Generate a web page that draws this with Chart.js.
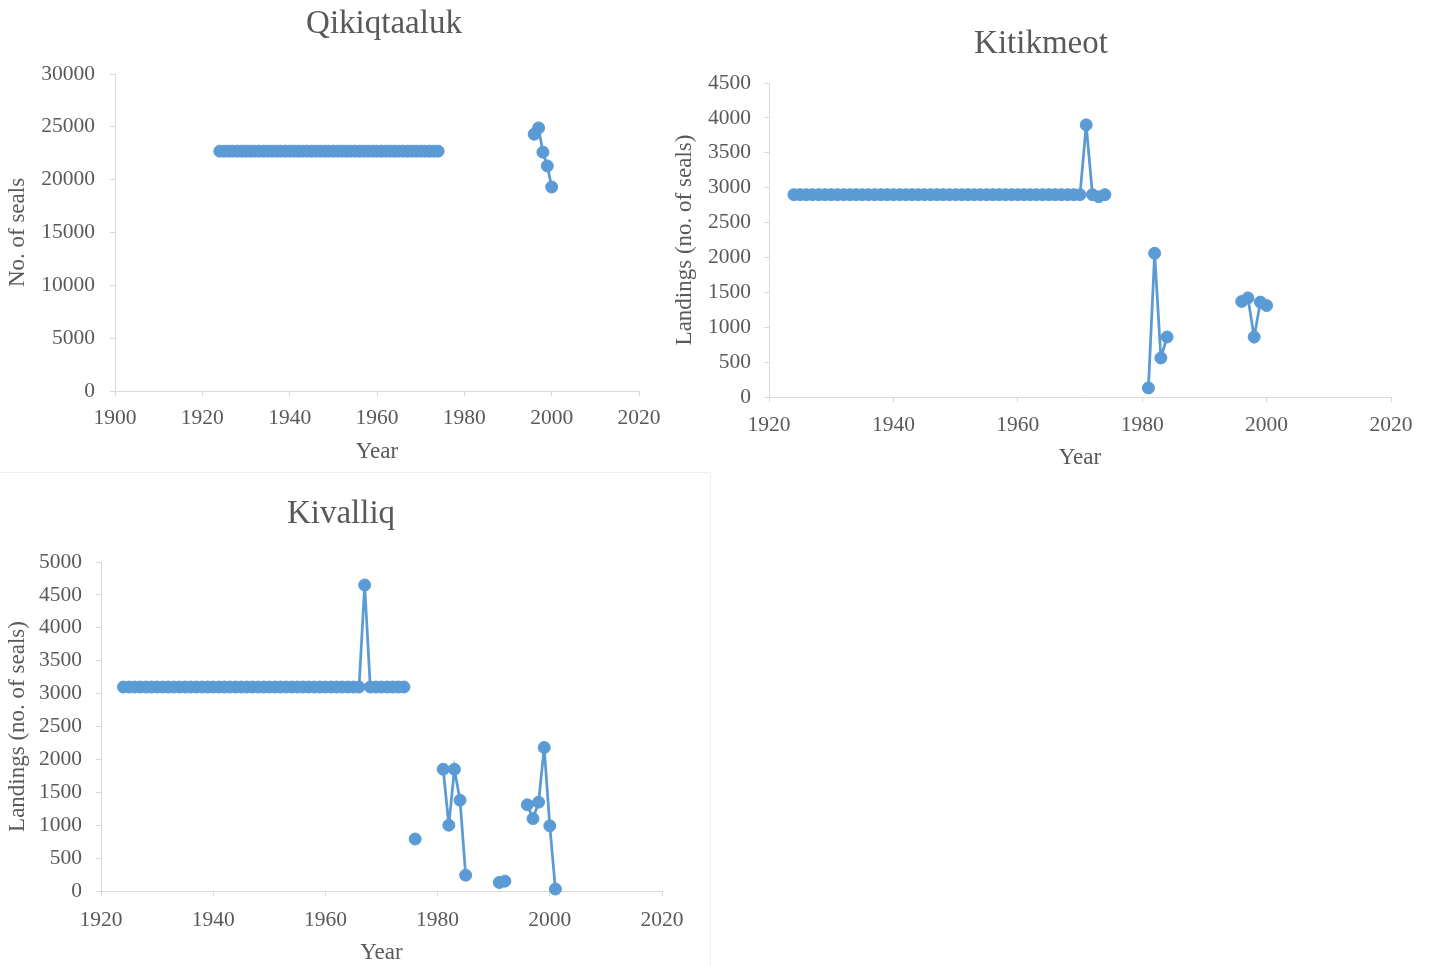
<!DOCTYPE html>
<html>
<head>
<meta charset="utf-8">
<script src="https://cdn.jsdelivr.net/npm/chart.js@4/dist/chart.umd.min.js"></script>
<style>
  html, body { margin: 0; padding: 0; background: #ffffff; }
  body { width: 1429px; height: 966px; position: relative; overflow: hidden; }
  canvas { position: absolute; }
  #frame { position: absolute; left: 0; top: 472px; width: 711px; height: 494px;
           border-top: 1px solid #efefef; border-right: 1px solid #efefef; box-sizing: border-box; }
</style>
</head>
<body>
<div id="frame"></div>
<canvas id="qik" width="768" height="471" style="left:0;top:0"></canvas>
<canvas id="kit" width="750" height="477" style="left:666px;top:0"></canvas>
<canvas id="kiv" width="700" height="500" style="left:0;top:472px"></canvas>
<script>
// Seal landings by region; a null value breaks the line between runs of years.

const qikYears = [
  1924, 1925, 1926, 1927, 1928, 1929, 1930, 1931, 1932, 1933,
  1934, 1935, 1936, 1937, 1938, 1939, 1940, 1941, 1942, 1943,
  1944, 1945, 1946, 1947, 1948, 1949, 1950, 1951, 1952, 1953,
  1954, 1955, 1956, 1957, 1958, 1959, 1960, 1961, 1962, 1963,
  1964, 1965, 1966, 1967, 1968, 1969, 1970, 1971, 1972, 1973,
  1974, 1985,
  1996, 1997, 1998, 1999, 2000
];
const qikSeals = [
  22700, 22700, 22700, 22700, 22700, 22700, 22700, 22700, 22700, 22700,
  22700, 22700, 22700, 22700, 22700, 22700, 22700, 22700, 22700, 22700,
  22700, 22700, 22700, 22700, 22700, 22700, 22700, 22700, 22700, 22700,
  22700, 22700, 22700, 22700, 22700, 22700, 22700, 22700, 22700, 22700,
  22700, 22700, 22700, 22700, 22700, 22700, 22700, 22700, 22700, 22700,
  22700, null,
  24300, 24900, 22600, 21300, 19300
];

const kitYears = [
  1924, 1925, 1926, 1927, 1928, 1929, 1930, 1931, 1932, 1933,
  1934, 1935, 1936, 1937, 1938, 1939, 1940, 1941, 1942, 1943,
  1944, 1945, 1946, 1947, 1948, 1949, 1950, 1951, 1952, 1953,
  1954, 1955, 1956, 1957, 1958, 1959, 1960, 1961, 1962, 1963,
  1964, 1965, 1966, 1967, 1968, 1969, 1970, 1971, 1972, 1973,
  1974, 1978,
  1981, 1982, 1983, 1984, 1990,
  1996, 1997, 1998, 1999, 2000
];
const kitLandings = [
  2900, 2900, 2900, 2900, 2900, 2900, 2900, 2900, 2900, 2900,
  2900, 2900, 2900, 2900, 2900, 2900, 2900, 2900, 2900, 2900,
  2900, 2900, 2900, 2900, 2900, 2900, 2900, 2900, 2900, 2900,
  2900, 2900, 2900, 2900, 2900, 2900, 2900, 2900, 2900, 2900,
  2900, 2900, 2900, 2900, 2900, 2900, 2900, 3900, 2900, 2870,
  2900, null,
  130, 2060, 560, 860, null,
  1370, 1420, 860, 1360, 1310
];

const kivYears = [
  1924, 1925, 1926, 1927, 1928, 1929, 1930, 1931, 1932, 1933,
  1934, 1935, 1936, 1937, 1938, 1939, 1940, 1941, 1942, 1943,
  1944, 1945, 1946, 1947, 1948, 1949, 1950, 1951, 1952, 1953,
  1954, 1955, 1956, 1957, 1958, 1959, 1960, 1961, 1962, 1963,
  1964, 1965, 1966, 1967, 1968, 1969, 1970, 1971, 1972, 1973,
  1974, 1975, 1976, 1977,
  1981, 1982, 1983, 1984, 1985, 1988,
  1991, 1992, 1994,
  1996, 1997, 1998, 1999, 2000, 2001
];
const kivLandings = [
  3100, 3100, 3100, 3100, 3100, 3100, 3100, 3100, 3100, 3100,
  3100, 3100, 3100, 3100, 3100, 3100, 3100, 3100, 3100, 3100,
  3100, 3100, 3100, 3100, 3100, 3100, 3100, 3100, 3100, 3100,
  3100, 3100, 3100, 3100, 3100, 3100, 3100, 3100, 3100, 3100,
  3100, 3100, 3100, 4650, 3100, 3100, 3100, 3100, 3100, 3100,
  3100, null, 790, null,
  1850, 1000, 1850, 1380, 240, null,
  130, 150, null,
  1310, 1100, 1350, 2180, 990, 30
];

const yearTicksFrom1900 = [1900, 1920, 1940, 1960, 1980, 2000, 2020];
const yearTicksFrom1920 = [1920, 1940, 1960, 1980, 2000, 2020];
const qikTicks = [0, 5000, 10000, 15000, 20000, 25000, 30000];
const kitTicks = [0, 500, 1000, 1500, 2000, 2500, 3000, 3500, 4000, 4500];
const kivTicks = [0, 500, 1000, 1500, 2000, 2500, 3000, 3500, 4000, 4500, 5000];

const BLUE = '#5b9bd5';
const TEXT = '#595959';
const AXIS = '#d9d9d9';
const SERIF = '"Liberation Serif", "Times New Roman", serif';

function axisStyle() {
  return {
    grid: { display: true, drawOnChartArea: false, drawTicks: true, tickLength: 5, color: AXIS, lineWidth: 1 },
    border: { display: true, color: AXIS, width: 1 }
  };
}

function panel(id, o) {
  const points = o.years.map((x, i) => ({ x: x, y: o.values[i] }));
  return new Chart(document.getElementById(id), {
    type: 'scatter',
    data: {
      datasets: [{
        data: points,
        showLine: true,
        spanGaps: false,
        tension: 0,
        borderColor: BLUE,
        backgroundColor: BLUE,
        borderWidth: 2.75,
        pointRadius: 6,
        pointHoverRadius: 6,
        pointBorderWidth: 1,
        pointBackgroundColor: BLUE,
        pointBorderColor: BLUE,
        clip: false
      }]
    },
    options: {
      responsive: false,
      animation: false,
      devicePixelRatio: 1,
      events: [],
      layout: { padding: { top: 0, left: 0, right: o.padRight, bottom: 0 } },
      plugins: {
        legend: { display: false },
        tooltip: { enabled: false },
        title: {
          display: true,
          text: o.title,
          color: TEXT,
          font: { family: SERIF, size: 33, weight: 'normal', lineHeight: 1.2 },
          padding: { top: o.titleTop, bottom: o.titleBottom }
        }
      },
      scales: {
        x: Object.assign(axisStyle(), {
          type: 'linear',
          min: o.xTicks[0],
          max: o.xTicks[o.xTicks.length - 1],
          afterFit: s => { s.height = o.xHeight; s.paddingLeft = 0; s.paddingRight = 0; },
          afterBuildTicks: s => { s.ticks = o.xTicks.map(v => ({ value: v })); },
          ticks: {
            autoSkip: false, maxRotation: 0, minRotation: 0,
            color: TEXT, padding: o.xTickPad,
            font: { family: SERIF, size: 21.5, lineHeight: 1.2 },
            callback: v => String(v)
          },
          title: {
            display: true, text: 'Year', color: TEXT,
            font: { family: SERIF, size: 23, lineHeight: 1.2 },
            padding: { top: 0, bottom: o.xTitleBottom }
          }
        }),
        y: Object.assign(axisStyle(), {
          type: 'linear',
          min: o.yTicks[0],
          max: o.yTicks[o.yTicks.length - 1],
          afterFit: s => { s.width = o.yWidth; },
          afterBuildTicks: s => { s.ticks = o.yTicks.map(v => ({ value: v })); },
          ticks: {
            autoSkip: false,
            color: TEXT, padding: o.yTickPad,
            font: { family: SERIF, size: 21.5, lineHeight: 1.2 },
            callback: v => String(v)
          },
          title: {
            display: true, text: o.yTitle, color: TEXT,
            font: { family: SERIF, size: 23, lineHeight: 1.2 },
            padding: { top: o.yTitleTop, bottom: 0 }
          }
        }),
        // empty spacer on the right that fixes where the plot area ends
        spacer: {
          type: 'linear',
          position: 'right',
          display: true,
          grid: { display: false },
          border: { display: false },
          ticks: { display: false },
          afterFit: s => { s.width = o.spacer; s.paddingTop = 0; s.paddingBottom = 0; }
        }
      }
    }
  });
}

panel('qik', {
  title: 'Qikiqtaaluk', yTitle: 'No. of seals',
  years: qikYears, values: qikSeals,
  xTicks: yearTicksFrom1900, yTicks: qikTicks,
  padRight: 0, spacer: 129, titleTop: 4.2, titleBottom: 30.2,
  xHeight: 80, xTickPad: 9.6, xTitleBottom: 4.8,
  yWidth: 115, yTickPad: 15, yTitleTop: 4.2
});

panel('kit', {
  title: 'Kitikmeot', yTitle: 'Landings (no. of seals)',
  years: kitYears, values: kitLandings,
  xTicks: yearTicksFrom1920, yTicks: kitTicks,
  padRight: 0, spacer: 25, titleTop: 24.2, titleBottom: 19.2,
  xHeight: 80, xTickPad: 10, xTitleBottom: 5.2,
  yWidth: 103, yTickPad: 13, yTitleTop: 5.2
});

panel('kiv', {
  title: 'Kivalliq', yTitle: 'Landings (no. of seals)',
  years: kivYears, values: kivLandings,
  xTicks: yearTicksFrom1920, yTicks: kivTicks,
  padRight: 18, spacer: 20, titleTop: 22.2, titleBottom: 28.2,
  xHeight: 81, xTickPad: 11, xTitleBottom: 5.2,
  yWidth: 101, yTickPad: 14, yTitleTop: 4.2
});
</script>
</body>
</html>
